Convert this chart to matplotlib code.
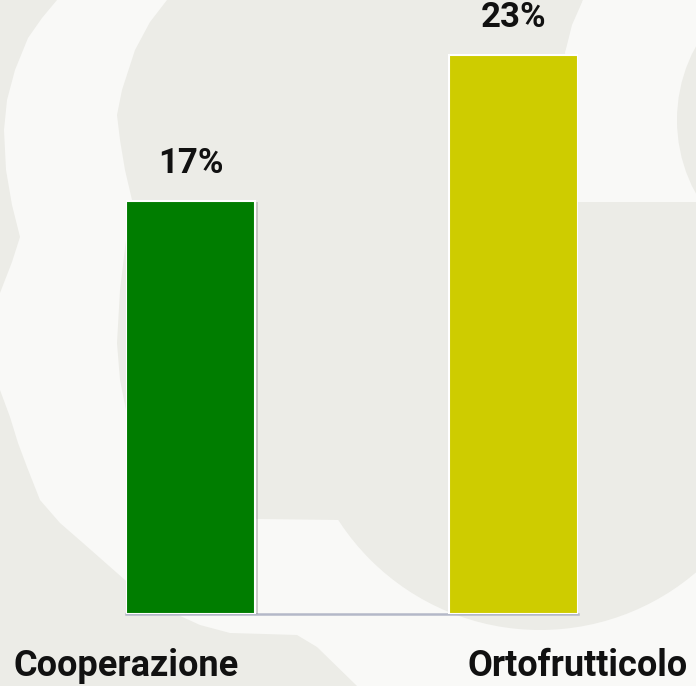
import matplotlib
matplotlib.use('Agg')
import matplotlib.pyplot as plt
import matplotlib.patheffects as pe
from matplotlib.patches import Polygon, Circle
import numpy as np

categories = ['Cooperazione', 'Ortofrutticolo']
values = [17, 23]
value_labels = ['17%', '23%']
bar_colors = ['#007d00', '#cecc00']

bg_gray = '#ecece7'
bg_white = '#f9f9f7'

plt.rcParams['font.family'] = ['Roboto', 'DejaVu Sans']

fig = plt.figure(figsize=(6.96, 6.86), dpi=100)
fig.patch.set_facecolor(bg_white)

# watermark logo in the background (pixel coordinates, y down)
bg = fig.add_axes([0, 0, 1, 1], zorder=-1)
bg.set_xlim(0, 696)
bg.set_ylim(686, 0)
bg.axis('off')

left_crescent = [(0, 0), (57, 0), (42, 18), (28, 38), (15, 70), (7, 100), (4, 130),
                 (6, 170), (12, 205), (20, 237), (12, 262), (0, 293)]
lower_left = [(0, 390), (10, 417), (18, 443), (27, 467), (40, 500), (60, 523),
              (83, 543), (125, 580), (167, 610), (200, 625), (230, 633), (265, 634),
              (297, 635), (317, 647), (357, 686), (0, 686)]
middle = [(167, 0), (150, 22), (135, 50), (122, 90), (117, 115), (120, 140),
          (125, 170), (132, 200), (126, 240), (120, 290), (117, 343), (120, 380),
          (128, 420), (150, 455), (180, 482), (215, 505), (257, 519), (340, 520),
          (400, 480), (600, 400), (696, 400), (696, 202), (578, 202), (570, 120),
          (565, 53), (583, 0)]
top_right = [(583, 0), (572, 25), (565, 53), (570, 120), (578, 202), (696, 202), (696, 0)]

for pts in (left_crescent, lower_left, middle):
    bg.add_patch(Polygon(pts, closed=True, facecolor=bg_gray, edgecolor='none'))
bg.add_patch(Circle((540, 390), 240, facecolor=bg_gray, edgecolor='none'))
bg.add_patch(Polygon(top_right, closed=True, facecolor=bg_white, edgecolor='none'))
bg.add_patch(Circle((830, 120), 153, facecolor=bg_gray, edgecolor='none'))

# chart
ax = fig.add_axes([0.181, 0.105, 0.6494, 0.8856])
ax.set_facecolor('none')
x = np.arange(len(categories))
w = 0.4
bars = ax.bar(x, values, width=w, color=bar_colors, edgecolor='white', linewidth=1.5,
              zorder=3)
for b in bars:
    b.set_path_effects([pe.SimplePatchShadow(offset=(2, -1), shadow_rgbFace='#888888',
                                             alpha=0.4), pe.Normal()])

ax.set_xlim(-0.2, 1.2)
ax.set_ylim(0, 25)

for i, v in enumerate(values):
    ax.annotate(value_labels[i], xy=(x[i], v), xytext=(0, 15), textcoords='offset points',
                ha='center', va='bottom', fontsize=25, fontweight='bold', color='#111111')

# category labels centred on the outer edges of the bars
label_x = [x[0] - w / 2, x[1] + w / 2]
for i, c in enumerate(categories):
    ax.annotate(c, xy=(label_x[i], 0), xytext=(0, -45), textcoords='offset points',
                ha='center', va='baseline', fontsize=26, fontweight='bold',
                color='#111111', annotation_clip=False)

for s in ['top', 'left', 'right']:
    ax.spines[s].set_visible(False)
ax.spines['bottom'].set_color('#b4b8c8')
ax.spines['bottom'].set_linewidth(1.8)
ax.set_xticks([])
ax.set_yticks([])

fig.savefig('out.png', dpi=100, facecolor=fig.get_facecolor())
